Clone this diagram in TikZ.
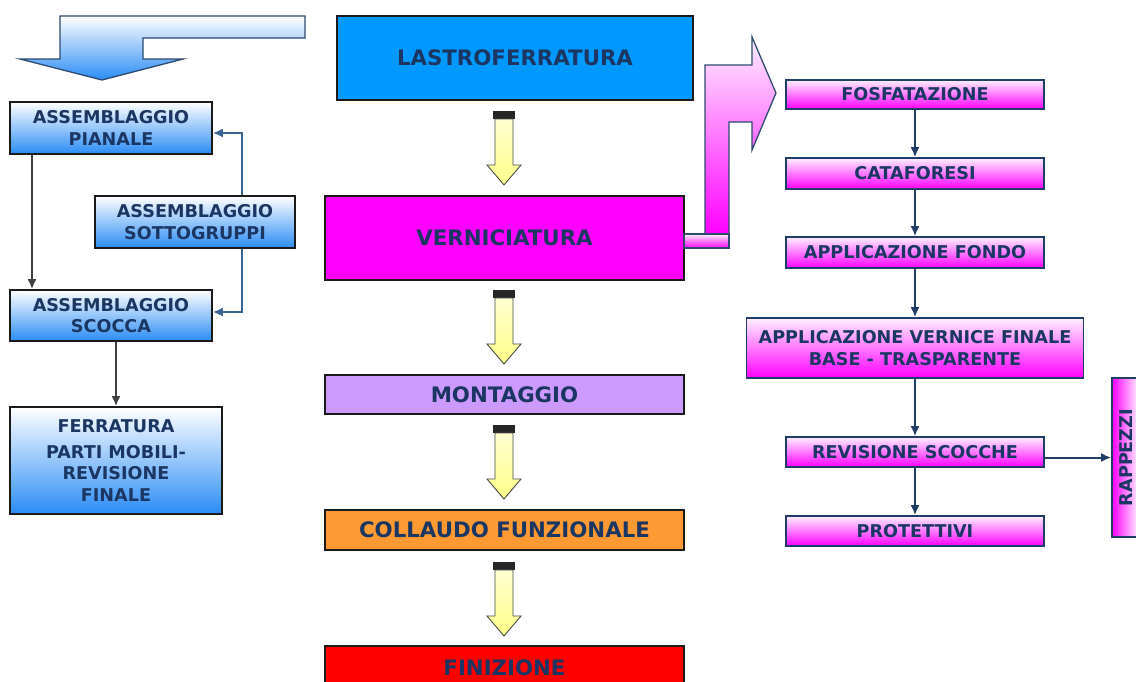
\documentclass[tikz,border=0pt]{standalone}
\usepackage{fontspec}
\setmainfont{DejaVu Sans}
\usetikzlibrary{arrows.meta}
\definecolor{txt}{HTML}{1B3662}
\definecolor{bline}{HTML}{1A1A1A}
\definecolor{rline}{HTML}{1F3D66}
\definecolor{lblue}{HTML}{2A8CF5}
\definecolor{mag}{HTML}{FF00FF}
\definecolor{pinktop}{HTML}{FFF0FF}
\definecolor{cblue}{HTML}{0099FF}
\definecolor{lav}{HTML}{CC99FF}
\definecolor{orng}{HTML}{FF9933}
\definecolor{yel1}{HTML}{FFFFD0}
\definecolor{yel2}{HTML}{FFFF88}
\definecolor{steel}{HTML}{3A6490}
\definecolor{arrline}{HTML}{2E4A6E}
\newcommand{\smallf}{\fontsize{17.6}{21.5}\selectfont\bfseries}
\newcommand{\bigf}{\fontsize{21.3}{25}\selectfont\bfseries}
\begin{document}
\begin{tikzpicture}[x=1pt,y=-1pt,
  box/.style={draw=bline, line width=1.6pt, text=txt, font=\smallf, align=center, inner sep=0pt},
  lbox/.style={box, top color=white, bottom color=lblue},
  rbox/.style={box, draw=rline, top color=pinktop, bottom color=mag},
  cbox/.style={box, font=\bigf},
  conn/.style={draw=rline, line width=2pt, -{Latex[length=10pt,width=9pt]}},
  dconn/.style={draw=black!75, line width=2pt, -{Latex[length=10pt,width=9pt]}},
  sconn/.style={draw=steel, line width=2.2pt, -{Latex[length=10pt,width=9pt]}},
  yarrow/.pic={
    \fill[black!85] (-11,0) rectangle (11,8);
    \draw[black!70, line width=0.9pt, top color=yel1, bottom color=yel2]
      (-9,8) -- (9,8) -- (9,54) -- (17,54) -- (0,74) -- (-17,54) -- (-9,54) -- cycle;
  }]
\clip (0,0) rectangle (1136,681);
\fill[white] (0,0) rectangle (1136,681);

% top-left hollow arrow
\draw[arrline, line width=1.3pt, top color=white, bottom color=lblue]
  (60,16) -- (305,16) -- (305,38) -- (143,38) -- (143,59) -- (183,59) -- (102,80) -- (20,59) -- (60,59) -- cycle;

% left column
\node[lbox, minimum width=202pt, minimum height=52pt] (pian) at (111,128) {ASSEMBLAGGIO\\PIANALE};
\node[lbox, minimum width=200pt, minimum height=52pt] (sotto) at (195,222) {ASSEMBLAGGIO\\SOTTOGRUPPI};
\node[lbox, minimum width=202pt, minimum height=51pt] (scoc) at (111,315.5) {ASSEMBLAGGIO\\SCOCCA};
\node[lbox, minimum width=212pt, minimum height=107pt] (ferr) at (116,460.5) {FERRATURA\\[4pt]PARTI MOBILI-\\REVISIONE\\FINALE};

\draw[dconn] ([xshift=-79pt]pian.south) -- ([xshift=-79pt]scoc.north);
\draw[sconn] ([xshift=47pt]sotto.north) |- ([yshift=-5pt]pian.east);
\draw[sconn] ([xshift=47pt]sotto.south) |- ([yshift=3.5pt]scoc.east);
\draw[dconn] ([xshift=5pt]scoc.south) -- (ferr.north);

% centre column
\node[cbox, fill=cblue, minimum width=356pt, minimum height=84pt] (lastro) at (515,58) {LASTROFERRATURA};
\node[cbox, fill=mag, minimum width=359pt, minimum height=84pt] (verni) at (504.5,238) {VERNICIATURA};
\node[cbox, fill=lav, minimum width=359pt, minimum height=39pt] (mont) at (504.5,394.5) {MONTAGGIO};
\node[cbox, fill=orng, minimum width=359pt, minimum height=40pt] (coll) at (504.5,530) {COLLAUDO FUNZIONALE};
\node[cbox, fill=red, minimum width=359pt, minimum height=70pt] (fini) at (504.5,681) {};
\node[text=txt, font=\bigf] (finit) at (504.5,668) {FINIZIONE};

\coordinate (y1) at (504,111);
\coordinate (y2) at (504,290);
\coordinate (y3) at (504,425);
\coordinate (y4) at (504,562);
\pic at (y1) {yarrow};
\pic at (y2) {yarrow};
\pic at (y3) {yarrow};
\pic at (y4) {yarrow};

% right hollow arrow
\draw[arrline, line width=1.3pt, top color=pinktop, bottom color=mag]
  (705,234) -- (705,65) -- (752,65) -- (752,37) -- (776,93) -- (752,150) -- (752,122) -- (729,122) -- (729,234) -- cycle;
\draw[arrline, line width=1.3pt, top color=pinktop, bottom color=mag]
  (684,234) rectangle (729,248);

% right column
\node[rbox, minimum width=258pt, minimum height=29pt] (fosf) at (915,94.5) {FOSFATAZIONE};
\node[rbox, minimum width=258pt, minimum height=31pt] (cata) at (915,173.5) {CATAFORESI};
\node[rbox, minimum width=258pt, minimum height=31pt] (fondo) at (915,252.5) {APPLICAZIONE FONDO};
\node[rbox, minimum width=337pt, minimum height=60pt] (vern) at (915,348) {APPLICAZIONE VERNICE FINALE\\BASE - TRASPARENTE};
\node[rbox, minimum width=258pt, minimum height=30pt] (rev) at (915,452) {REVISIONE SCOCCHE};
\node[rbox, minimum width=258pt, minimum height=30pt] (prot) at (915,531) {PROTETTIVI};
\node[box, draw=rline, left color=mag, right color=white, rotate=90, minimum width=159pt, minimum height=28pt] (rapp) at (1126,457.5) {RAPPEZZI};

\draw[conn] (fosf) -- (cata);
\draw[conn] (cata) -- (fondo);
\draw[conn] (fondo) -- (vern);
\draw[conn] (vern) -- (rev);
\draw[conn] (rev) -- (prot);
\draw[conn] (rev.east |- rapp.north) -- (rapp.north);
\end{tikzpicture}
\end{document}
